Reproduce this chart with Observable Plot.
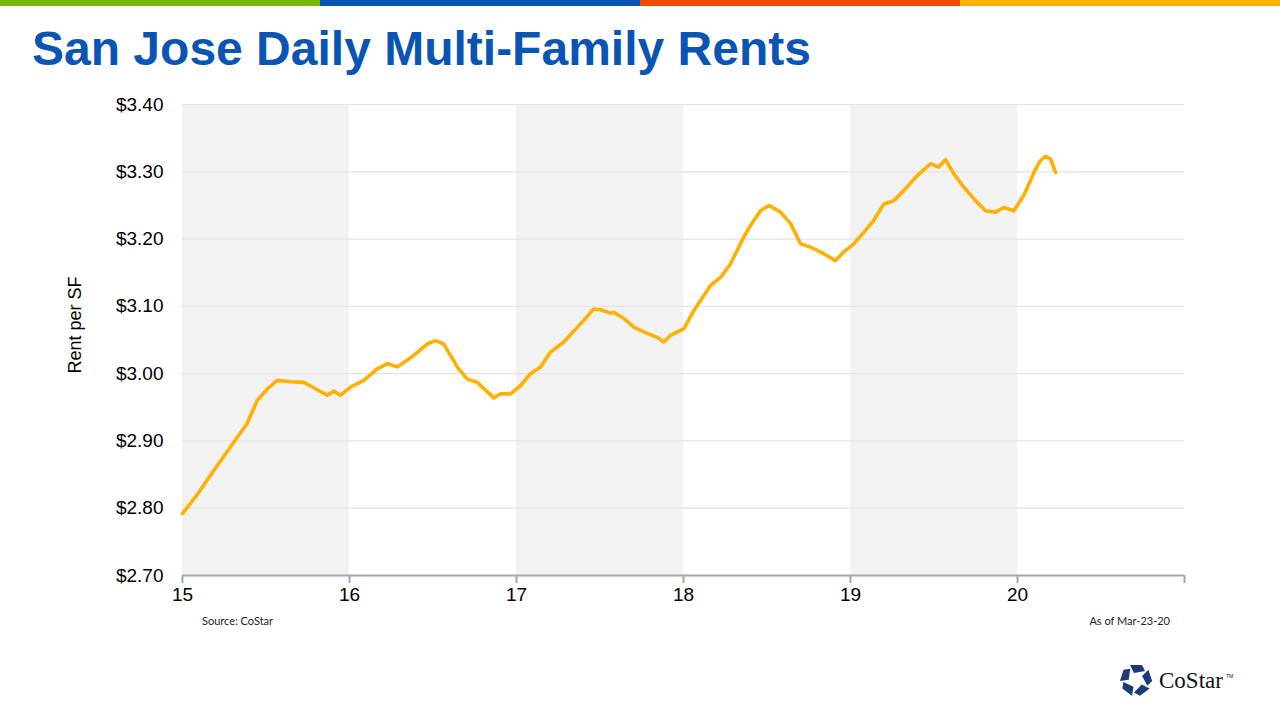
<!DOCTYPE html>
<html>
<head>
<meta charset="utf-8">
<script src="https://cdn.jsdelivr.net/npm/d3@7"></script>
<script src="https://cdn.jsdelivr.net/npm/@observablehq/plot@0.6"></script>
<style>
  html, body { margin: 0; padding: 0; background: #fff; width: 1280px; height: 720px; overflow: hidden; position: relative; font-family: "Liberation Sans", Arial, sans-serif; }
  .bar { position: absolute; top: 0; height: 6px; }
  #title { position: absolute; left: 32px; top: 21px; font-weight: bold; font-size: 48px; line-height: 56px; color: #0a55b4; white-space: nowrap; }
  #chart { position: absolute; left: 0; top: 90px; }
  .note { position: absolute; font-family: "Lato", "Open Sans", sans-serif; font-size: 11px; color: #222; }
  #logo { position: absolute; left: 1115px; top: 660px; }
</style>
</head>
<body>
<div class="bar" style="left:0;width:320px;background:#76b900"></div>
<div class="bar" style="left:320px;width:320px;background:#0556b3"></div>
<div class="bar" style="left:640px;width:320px;background:#ee4b00"></div>
<div class="bar" style="left:960px;width:320px;background:#ffb000"></div>
<div id="title">San Jose Daily Multi-Family Rents</div>
<div id="chart"></div>
<div class="note" style="left:202px;top:614px;">Source: CoStar</div>
<div class="note" style="left:1080px;top:614px;width:90px;text-align:right;">As of Mar-23-20</div>
<svg id="logo" width="125" height="40" viewBox="0 0 125 40">
  <g transform="translate(21,20)" fill="#1d3a78">
    <g id="seg"><polygon points="-6,-15 6,-15 9,-9 -2,-7"/></g>
    <use href="#seg" transform="rotate(72)"/>
    <use href="#seg" transform="rotate(144)"/>
    <use href="#seg" transform="rotate(216)"/>
    <use href="#seg" transform="rotate(288)"/>
  </g>
  <text x="44" y="28" font-family="'Liberation Serif', 'DejaVu Serif', serif" font-size="23" fill="#111">CoStar</text>
  <text x="111" y="18" font-family="'Liberation Sans', sans-serif" font-size="5" fill="#111">TM</text>
</svg>
<script>
// Decimal year (15 = Jan 2015) and rent per square foot
const years = [15.00, 15.088, 15.187, 15.287, 15.387, 15.447, 15.507, 15.567, 15.647, 15.726, 15.786, 15.866, 15.906, 15.946,
  16.006, 16.086, 16.166, 16.226, 16.286, 16.385, 16.465, 16.515, 16.565, 16.645, 16.705, 16.765, 16.864, 16.904, 16.964,
  17.024, 17.084, 17.144, 17.204, 17.283, 17.383, 17.463, 17.503, 17.563, 17.583, 17.643, 17.702, 17.782, 17.842, 17.882, 17.922,
  18.002, 18.062, 18.162, 18.222, 18.281, 18.361, 18.401, 18.461, 18.511, 18.581, 18.641, 18.701, 18.760, 18.820, 18.910, 18.960,
  19.020, 19.080, 19.140, 19.199, 19.259, 19.319, 19.399, 19.479, 19.528, 19.569, 19.619, 19.679, 19.738, 19.808, 19.868, 19.918, 19.978,
  20.038, 20.078, 20.108, 20.138, 20.168, 20.198, 20.228];
const rents = [2.792, 2.820, 2.856, 2.891, 2.926, 2.960, 2.977, 2.990, 2.988, 2.987, 2.979, 2.968, 2.974, 2.968,
  2.980, 2.990, 3.007, 3.015, 3.010, 3.027, 3.044, 3.049, 3.044, 3.010, 2.992, 2.987, 2.964, 2.970, 2.970,
  2.982, 3.000, 3.010, 3.032, 3.047, 3.074, 3.096, 3.095, 3.090, 3.091, 3.082, 3.069, 3.060, 3.054, 3.047, 3.057,
  3.067, 3.094, 3.131, 3.143, 3.163, 3.203, 3.220, 3.242, 3.250, 3.240, 3.223, 3.193, 3.188, 3.181, 3.168, 3.181,
  3.193, 3.210, 3.228, 3.252, 3.257, 3.272, 3.294, 3.312, 3.307, 3.318, 3.297, 3.277, 3.260, 3.242, 3.240, 3.247, 3.242,
  3.265, 3.287, 3.304, 3.317, 3.323, 3.319, 3.299];
const xTicks = [15, 16, 17, 18, 19, 20, 21];
const yTicks = [2.7, 2.8, 2.9, 3.0, 3.1, 3.2, 3.3, 3.4];
const shadedYears = [15, 17, 19];
const yLabel = "Rent per SF";

const data = years.map((t, i) => ({t, rent: rents[i]}));

const chart = Plot.plot({
  width: 1280,
  height: 560,
  marginLeft: 182,
  marginRight: 96,
  marginTop: 14,
  marginBottom: 75,
  style: {fontFamily: "'Liberation Sans', Arial, sans-serif", fontSize: "19px", color: "#000", background: "transparent"},
  x: {domain: [15, 21]},
  y: {domain: [2.7, 3.4]},
  marks: [
    Plot.rect(shadedYears, {x1: d => d, x2: d => d + 1, y1: 2.7, y2: 3.4, fill: "#f2f2f2"}),
    Plot.ruleY(yTicks.slice(1), {stroke: "#e3e3e3", strokeWidth: 1.2}),
    Plot.line(data, {x: "t", y: "rent", stroke: "#ffb000", strokeWidth: 3.6, strokeLinejoin: "round", curve: "linear"}),
    Plot.ruleY([2.7], {stroke: "#a6a6a6", strokeWidth: 2}),
    Plot.axisX({ticks: xTicks, tickFormat: d => d === 21 ? "" : String(d), tickSize: 8, tickPadding: 4, stroke: "#a6a6a6", strokeWidth: 2, label: null, fontSize: 19}),
    Plot.axisY({ticks: yTicks, tickFormat: d => "$" + d.toFixed(2), tickSize: 0, tickPadding: 19, label: null, fontSize: 19}),
    Plot.text([yLabel], {text: d => d, frameAnchor: "left", textAnchor: "middle", dx: -107, dy: -15, rotate: -90, fontSize: 18, fill: "#000"})
  ]
});
document.getElementById("chart").appendChild(chart);
</script>
</body>
</html>
